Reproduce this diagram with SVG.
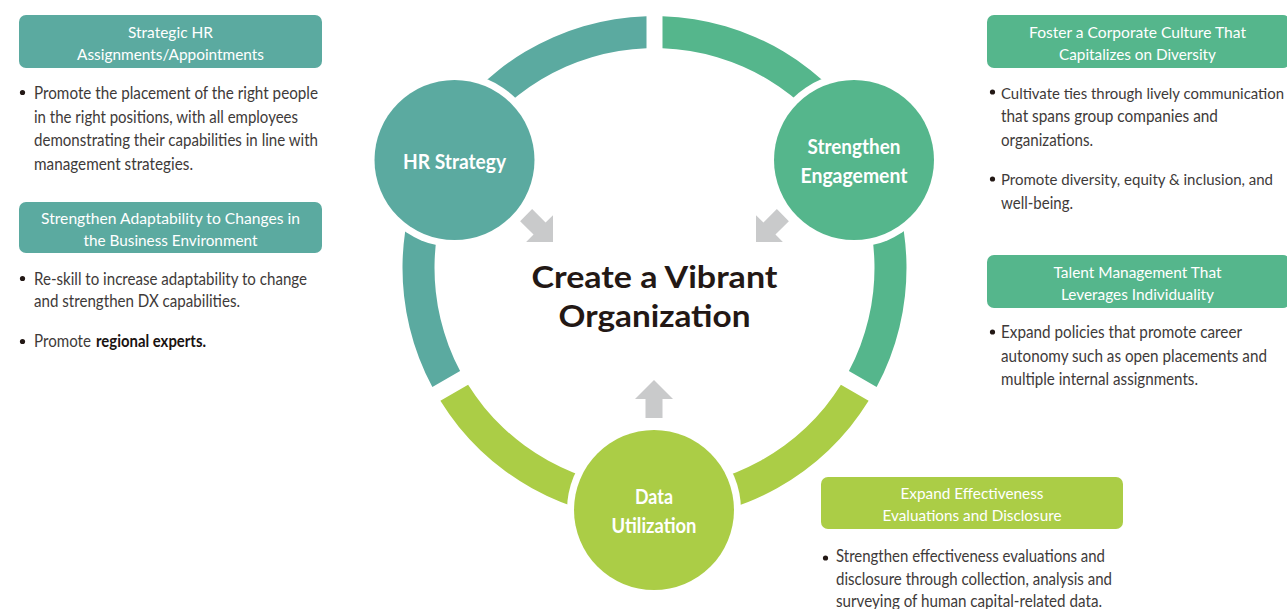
<svg xmlns="http://www.w3.org/2000/svg" xmlns:xlink="http://www.w3.org/1999/xlink" width="1287" height="609" viewBox="0 0 1287 609">
<style>
.teal{fill:#5BAAA0}
.green{fill:#55B68C}
.lime{fill:#ABCD46}
.halo{fill:#FFFFFF}
.arrow{fill:#C9CACB}
.box-t{font-family:Lato,"Open Sans","DejaVu Sans",sans-serif;font-size:16px;fill:#FFFFFF;text-anchor:middle}
.body{font-family:Lato,"Open Sans","DejaVu Sans",sans-serif;font-size:16.5px;fill:#3E3A39}
.hl{fill:#1A1311;font-weight:700}
.node-t{font-family:Lato,"Open Sans","DejaVu Sans",sans-serif;font-size:21px;font-weight:700;fill:#FFFFFF;text-anchor:middle}
.title{font-family:Lato,"Open Sans","DejaVu Sans",sans-serif;font-size:31px;font-weight:700;fill:#231815;text-anchor:middle}
.dot{fill:#231815}
</style>
<defs>
<polygon id="arr" points="0,0 19,19 8.5,19 8.5,38 -8.5,38 -8.5,19 -19,19"/>
</defs>
<rect width="1287" height="609" fill="#FFFFFF"/>

<g id="ring">
<path class="teal" d="M 432.37 387.00 A 252 252 0 0 1 646.5 16.13 L 646.5 48.15 A 220 220 0 0 0 460.10 370.99 Z"/>
<path class="green" d="M 662.5 16.13 A 252 252 0 0 1 876.63 387.00 L 848.90 370.99 A 220 220 0 0 0 662.5 48.15 Z"/>
<path class="lime" d="M 868.62 400.87 A 252 252 0 0 1 440.38 400.87 L 468.10 384.85 A 220 220 0 0 0 840.90 384.85 Z"/>
</g>

<g id="connectors">
<use xlink:href="#arr" href="#arr" class="arrow" transform="translate(553,242) rotate(135)"/>
<use xlink:href="#arr" href="#arr" class="arrow" transform="translate(756,242) rotate(-135)"/>
<use xlink:href="#arr" href="#arr" class="arrow" transform="translate(654,380)"/>
</g>

<g id="title">
<text class="title" x="654.5" y="287.5" textLength="246" lengthAdjust="spacingAndGlyphs">Create a Vibrant</text>
<text class="title" x="654.5" y="326.5" textLength="192" lengthAdjust="spacingAndGlyphs">Organization</text>
</g>

<g id="node-hr-strategy">
<circle class="halo" cx="454.5" cy="160" r="87"/>
<circle class="teal" cx="454.5" cy="160" r="80"/>
<text class="node-t" x="454.5" y="168.5" textLength="103" lengthAdjust="spacingAndGlyphs">HR Strategy</text>
</g>

<g id="node-engagement">
<circle class="halo" cx="854" cy="160" r="87"/>
<circle class="green" cx="854" cy="160" r="80"/>
<text class="node-t" x="854" y="153.5" textLength="93" lengthAdjust="spacingAndGlyphs">Strengthen</text>
<text class="node-t" x="854" y="183" textLength="107" lengthAdjust="spacingAndGlyphs">Engagement</text>
</g>

<g id="node-data">
<circle class="halo" cx="654" cy="510" r="87"/>
<circle class="lime" cx="654" cy="510" r="80"/>
<text class="node-t" x="654" y="503.5" textLength="38" lengthAdjust="spacingAndGlyphs">Data</text>
<text class="node-t" x="654" y="533" textLength="85" lengthAdjust="spacingAndGlyphs">Utilization</text>
</g>

<g id="panel-strategic-hr">
<rect class="teal" x="19" y="15" width="303" height="53" rx="7"/>
<text class="box-t" x="170.5" y="37.5" textLength="85" lengthAdjust="spacingAndGlyphs">Strategic HR</text>
<text class="box-t" x="170.5" y="59.5" textLength="187" lengthAdjust="spacingAndGlyphs">Assignments/Appointments</text>
<circle class="dot" cx="22.5" cy="92.5" r="2.6"/>
<text class="body" x="34" y="99" textLength="284" lengthAdjust="spacingAndGlyphs">Promote the placement of the right people</text>
<text class="body" x="34" y="122.5" textLength="264" lengthAdjust="spacingAndGlyphs">in the right positions, with all employees</text>
<text class="body" x="34" y="146" textLength="284" lengthAdjust="spacingAndGlyphs">demonstrating their capabilities in line with</text>
<text class="body" x="34" y="169.5" textLength="159" lengthAdjust="spacingAndGlyphs">management strategies.</text>
</g>

<g id="panel-adaptability">
<rect class="teal" x="19" y="202" width="303" height="51" rx="7"/>
<text class="box-t" x="170.5" y="224" textLength="259" lengthAdjust="spacingAndGlyphs">Strengthen Adaptability to Changes in</text>
<text class="box-t" x="170.5" y="246" textLength="174" lengthAdjust="spacingAndGlyphs">the Business Environment</text>
<circle class="dot" cx="22.5" cy="278.5" r="2.6"/>
<text class="body" x="34" y="284.5" textLength="273" lengthAdjust="spacingAndGlyphs">Re-skill to increase adaptability to change</text>
<text class="body" x="34" y="307" textLength="206" lengthAdjust="spacingAndGlyphs">and strengthen DX capabilities.</text>
<circle class="dot" cx="22.5" cy="341.5" r="2.6"/>
<text class="body" x="34" y="347" textLength="57" lengthAdjust="spacingAndGlyphs">Promote</text>
<text class="body hl" x="96" y="347" textLength="110" lengthAdjust="spacingAndGlyphs">regional experts.</text>
</g>

<g id="panel-culture">
<rect class="green" x="987" y="15" width="303" height="53" rx="7"/>
<text class="box-t" x="1137.5" y="37.5" textLength="217" lengthAdjust="spacingAndGlyphs">Foster a Corporate Culture That</text>
<text class="box-t" x="1137.5" y="59.5" textLength="157" lengthAdjust="spacingAndGlyphs">Capitalizes on Diversity</text>
<circle class="dot" cx="992.5" cy="92" r="2.6"/>
<text class="body" x="1001" y="98.5" style="font-size:15px" textLength="283" lengthAdjust="spacingAndGlyphs">Cultivate ties through lively communication</text>
<text class="body" x="1001" y="122" textLength="217" lengthAdjust="spacingAndGlyphs">that spans group companies and</text>
<text class="body" x="1001" y="145.5" textLength="92" lengthAdjust="spacingAndGlyphs">organizations.</text>
<circle class="dot" cx="992.5" cy="179" r="2.6"/>
<text class="body" x="1001" y="185" style="font-size:15.5px" textLength="272" lengthAdjust="spacingAndGlyphs">Promote diversity, equity &amp; inclusion, and</text>
<text class="body" x="1001" y="208.5" textLength="72" lengthAdjust="spacingAndGlyphs">well-being.</text>
</g>

<g id="panel-talent">
<rect class="green" x="987" y="255" width="303" height="53" rx="7"/>
<text class="box-t" x="1137.5" y="278" textLength="168" lengthAdjust="spacingAndGlyphs">Talent Management That</text>
<text class="box-t" x="1137.5" y="300" textLength="153" lengthAdjust="spacingAndGlyphs">Leverages Individuality</text>
<circle class="dot" cx="992.5" cy="332" r="2.6"/>
<text class="body" x="1001" y="338" textLength="241" lengthAdjust="spacingAndGlyphs">Expand policies that promote career</text>
<text class="body" x="1001" y="361.5" textLength="266" lengthAdjust="spacingAndGlyphs">autonomy such as open placements and</text>
<text class="body" x="1001" y="385" textLength="197" lengthAdjust="spacingAndGlyphs">multiple internal assignments.</text>
</g>

<g id="panel-effectiveness">
<rect class="lime" x="821" y="477" width="302" height="52" rx="7"/>
<text class="box-t" x="972" y="498.5" textLength="143" lengthAdjust="spacingAndGlyphs">Expand Effectiveness</text>
<text class="box-t" x="972" y="520.5" textLength="179" lengthAdjust="spacingAndGlyphs">Evaluations and Disclosure</text>
<circle class="dot" cx="825.5" cy="558" r="2.6"/>
<text class="body" x="836" y="561.5" textLength="269" lengthAdjust="spacingAndGlyphs">Strengthen effectiveness evaluations and</text>
<text class="body" x="836" y="584.5" textLength="276" lengthAdjust="spacingAndGlyphs">disclosure through collection, analysis and</text>
<text class="body" x="836" y="606.5" textLength="266" lengthAdjust="spacingAndGlyphs">surveying of human capital-related data.</text>
</g>
</svg>
